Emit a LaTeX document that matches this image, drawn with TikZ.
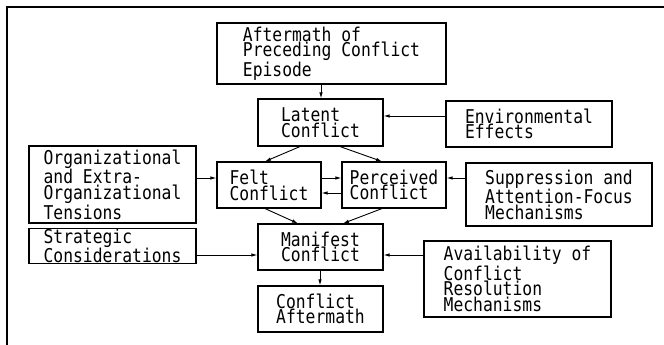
\documentclass[tikz,border=0pt]{standalone}
\usepackage{fontspec}
\newfontfamily\boxfont[FakeStretch=0.86]{DejaVu Sans Mono}
\usetikzlibrary{arrows.meta}
\begin{document}
\begin{tikzpicture}[x=1pt,y=-1pt,
  box/.style={draw,line width=1.1pt,inner sep=0pt,align=left,
    font=\fontsize{19}{14.5}\boxfont},
  arr/.style={-{Latex[length=6pt,width=3.5pt]},line width=0.9pt},
  frame/.style={line width=1.6pt}]
\useasboundingbox (0,0) rectangle (664,345);
\draw[frame] (664,7) -- (7,7) -- (7,345);
% boxes
\newcommand{\bx}[6]{\node[box,minimum width=#4-#2,minimum height=#5-#3] (#1) at ({(#2+#4)/2},{(#3+#5)/2}) {#6};}
\bx{prev}{217}{23}{446}{84}{Aftermath of\\Preceding Conflict\\Episode}
\bx{latent}{258}{99}{383}{146}{Latent\\Conflict}
\bx{env}{446}{101}{612}{147}{Environmental\\Effects}
\bx{org}{29}{146}{196}{223}{Organizational\\and Extra-\\Organizational\\Tensions}
\bx{felt}{217}{162}{321}{208}{Felt\\Conflict}
\bx{perc}{342}{162}{446}{208}{Perceived\\Conflict}
\bx{supp}{466}{163}{652}{226}{Suppression and\\Attention-Focus\\Mechanisms}
\bx{strat}{29}{229}{196}{263}{Strategic\\Considerations}
\bx{manif}{258}{224}{383}{270}{Manifest\\Conflict}
\bx{aft}{258}{286}{383}{332}{Conflict\\Aftermath}
\bx{avail}{424}{241}{611}{317}{Availability of\\Conflict\\Resolution\\Mechanisms}
% connectors
\draw[arr] (prev.south -| 321,0) -- (latent.north -| 321,0);
\draw[arr] (env.west |- 0,116) -- (latent.east |- 0,116);
\draw[arr] (latent.south -| 300,0) -- (felt.north -| 265,0);
\draw[arr] (latent.south -| 340,0) -- (perc.north -| 382,0);
\draw[arr] (org.east |- 0,178) -- (felt.west |- 0,178);
\draw[arr] (felt.east |- 0,178) -- (perc.west |- 0,178);
\draw[arr] (perc.west |- 0,193) -- (felt.east |- 0,193);
\draw[arr] (supp.west |- 0,178) -- (perc.east |- 0,178);
\draw[arr] (felt.south -| 265,0) -- (manif.north -| 298,0);
\draw[arr] (perc.south -| 382,0) -- (manif.north -| 343,0);
\draw[arr] (strat.east |- 0,255) -- (manif.west |- 0,255);
\draw[arr] (avail.west |- 0,255) -- (manif.east |- 0,255);
\draw[arr] (manif.south -| 320,0) -- (aft.north -| 320,0);
\end{tikzpicture}
\end{document}
